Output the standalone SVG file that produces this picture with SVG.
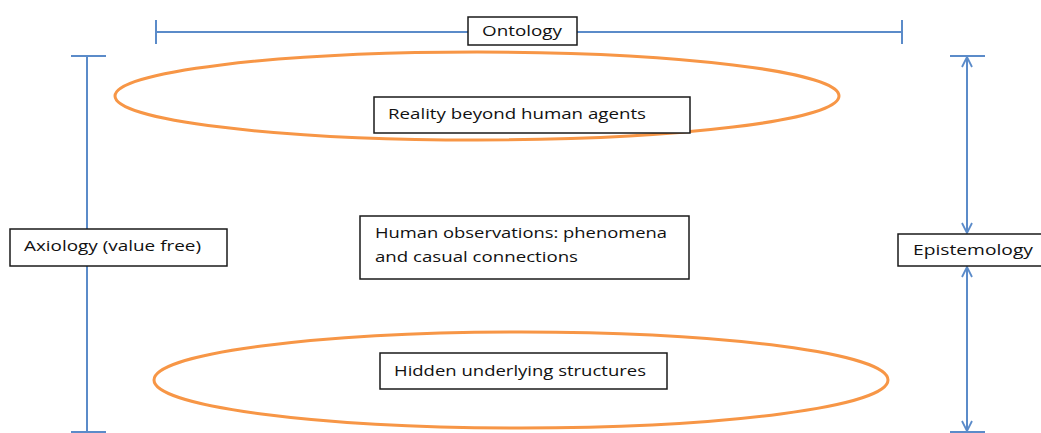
<svg xmlns="http://www.w3.org/2000/svg" width="1041" height="433" viewBox="0 0 1041 433">
<style>
.ax{stroke:#5B8BC9;stroke-width:2;fill:none}
.ell{stroke:#F79646;stroke-width:3;fill:none}
.box{fill:#fff;stroke:#1a1a1a;stroke-width:1.5}
.t{font-family:"Open Sans","Liberation Sans",sans-serif;font-size:15px;fill:#111}
</style>
<defs>
<marker id="arr" viewBox="0 0 12 12" refX="11" refY="6" markerWidth="12" markerHeight="12" markerUnits="userSpaceOnUse" orient="auto-start-reverse">
<path d="M1,1 L11,6 L1,11" fill="none" stroke="#5B8BC9" stroke-width="1.8"/>
</marker>
</defs>
<rect width="1041" height="433" fill="#fff"/>
<g id="connectors">
<line class="ax" x1="156" y1="32" x2="902" y2="32"/>
<line class="ax" x1="156" y1="20" x2="156" y2="44"/>
<line class="ax" x1="902" y1="20" x2="902" y2="44"/>
<line class="ax" x1="87" y1="56" x2="87" y2="432"/>
<line class="ax" x1="71" y1="56" x2="106" y2="56"/>
<line class="ax" x1="71" y1="432" x2="106" y2="432"/>
<line class="ax" x1="967" y1="57" x2="967" y2="233" marker-start="url(#arr)" marker-end="url(#arr)"/>
<line class="ax" x1="967" y1="267" x2="967" y2="431" marker-start="url(#arr)" marker-end="url(#arr)"/>
<line class="ax" x1="950" y1="56" x2="985" y2="56"/>
<line class="ax" x1="950" y1="432" x2="985" y2="432"/>
</g>
<g id="ellipse-top"><ellipse class="ell" cx="477" cy="96" rx="362" ry="44"/></g>
<g id="ellipse-bottom"><ellipse class="ell" cx="521" cy="380" rx="367" ry="48"/></g>
<g id="ontology">
<rect class="box" x="468" y="17" width="109" height="28"/>
<text class="t" x="482" y="36" textLength="80" lengthAdjust="spacingAndGlyphs">Ontology</text>
</g>
<g id="reality">
<rect class="box" x="374" y="97" width="316" height="36"/>
<text class="t" x="388" y="119" textLength="258" lengthAdjust="spacingAndGlyphs">Reality beyond human agents</text>
</g>
<g id="axiology">
<rect class="box" x="10" y="229" width="217" height="37"/>
<text class="t" x="24" y="251" textLength="177" lengthAdjust="spacingAndGlyphs">Axiology (value free)</text>
</g>
<g id="observations">
<rect class="box" x="360" y="216" width="329" height="63"/>
<text class="t" x="375" y="238" textLength="292" lengthAdjust="spacingAndGlyphs">Human observations: phenomena</text>
<text class="t" x="375" y="262" textLength="203" lengthAdjust="spacingAndGlyphs">and casual connections</text>
</g>
<g id="epistemology">
<rect class="box" x="898" y="234" width="150" height="32"/>
<text class="t" x="913" y="255" textLength="120" lengthAdjust="spacingAndGlyphs">Epistemology</text>
</g>
<g id="hidden">
<rect class="box" x="380" y="353" width="287" height="36"/>
<text class="t" x="394" y="376" textLength="252" lengthAdjust="spacingAndGlyphs">Hidden underlying structures</text>
</g>
</svg>
